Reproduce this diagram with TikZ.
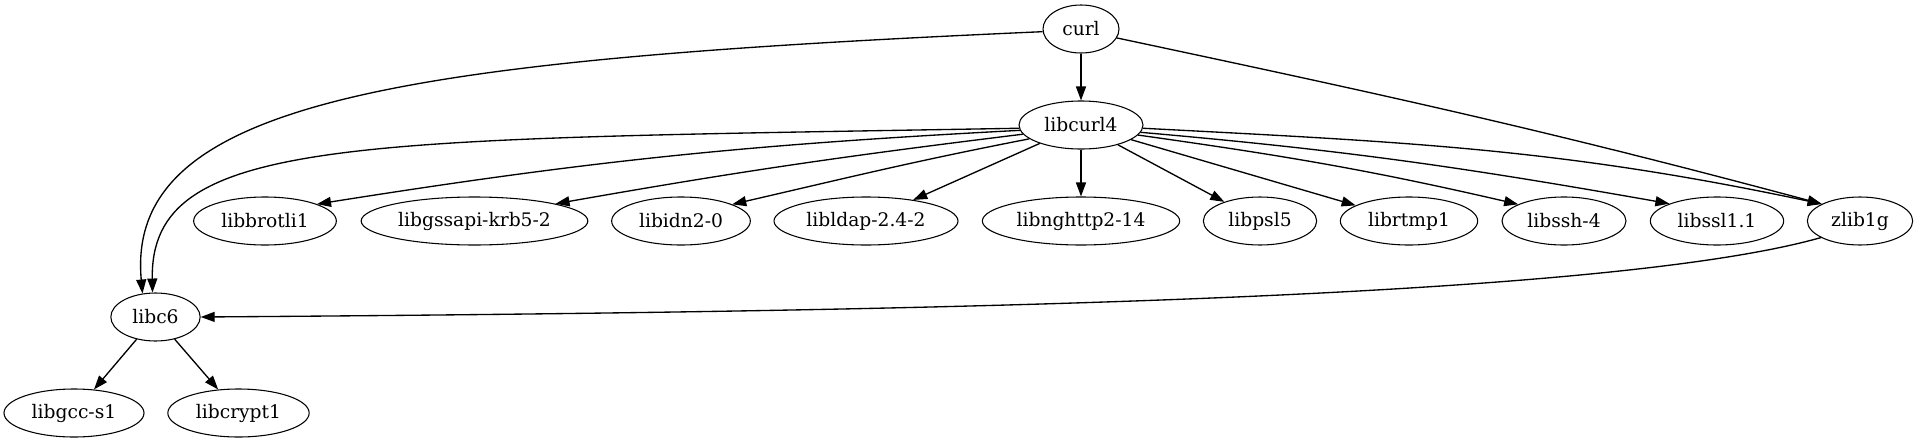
\documentclass[tikz,border=0pt]{standalone}
\usepackage{fontspec}
\setmainfont{DejaVu Serif}
\usetikzlibrary{arrows.meta, shapes.geometric}
\tikzset{>={Triangle[length=10.5pt, width=7.5pt]}}
\tikzset{pkg/.style={draw, ellipse, inner sep=0pt, minimum height=36pt, line width=0.8pt, font=\fontsize{14}{16}\selectfont}}
\tikzset{dep/.style={->, line width=1pt}}
\def\rowtop{-29}
\def\rowmid{-125}
\def\rowlib{-221}
\def\rowlibc{-317}
\def\rowbottom{-413}

\begin{document}
\begin{tikzpicture}[x=0.75pt, y=0.75pt]

\useasboundingbox (0,0) rectangle (1917,-443);

% curl and libcurl4
\node[pkg, minimum width=57pt] (curl) at (1081,\rowtop) {curl};
\node[pkg, minimum width=93pt] (libcurl) at (1081,\rowmid) {libcurl4};

% libraries under libcurl4
\node[pkg, minimum width=107pt] (brotli) at (265,\rowlib) {libbrotli1};
\node[pkg, minimum width=170pt] (gssapi) at (474.5,\rowlib) {libgssapi-krb5-2};
\node[pkg, minimum width=104pt] (idn) at (681,\rowlib) {libidn2-0};
\node[pkg, minimum width=138pt] (ldap) at (866,\rowlib) {libldap-2.4-2};
\node[pkg, minimum width=148pt] (nghttp) at (1081,\rowlib) {libnghttp2-14};
\node[pkg, minimum width=85pt] (psl) at (1260,\rowlib) {libpsl5};
\node[pkg, minimum width=103pt] (rtmp) at (1409,\rowlib) {librtmp1};
\node[pkg, minimum width=93pt] (ssh) at (1564,\rowlib) {libssh-4};
\node[pkg, minimum width=100pt] (ssl) at (1717,\rowlib) {libssl1.1};
\node[pkg, minimum width=79pt] (zlib) at (1860,\rowlib) {zlib1g};

% libc6 and below
\node[pkg, minimum width=67pt] (libc) at (155.5,\rowlibc) {libc6};
\node[pkg, minimum width=105pt] (gcc) at (74,\rowbottom) {libgcc-s1};
\node[pkg, minimum width=106pt] (crypt) at (238.5,\rowbottom) {libcrypt1};

% edges from curl
\draw[dep] (curl) -- (libcurl);
\draw[dep] (curl.184) .. controls (400,-60) and (125,-100) .. (libc.119);
\draw[dep] (curl.346) to[out=-12, in=165] (zlib.156);

% edges from libcurl4
\draw[dep] (libcurl.183) .. controls (350,-140) and (150,-135) .. (libc.97);
\draw[dep] (libcurl.185) to[out=183, in=9] (brotli.18);
\draw[dep] (libcurl.189) to[out=187, in=10] (gssapi.12);
\draw[dep] (libcurl.195) to[out=191, in=13] (idn.18);
\foreach \lib in {ldap, nghttp, psl, rtmp}{
    \draw[dep] (libcurl) -- (\lib);
}
\draw[dep] (libcurl.350) to[out=-8, in=167] (ssh.160);
\draw[dep] (libcurl.353) to[out=-5, in=170] (ssl.160);
\draw[dep] (libcurl.357) to[out=-3, in=168] (zlib.156);

% zlib1g back to libc6
\draw[dep] (zlib.203) .. controls (1600,-300) and (900,-312) .. (libc.east);

% libc6
\draw[dep] (libc) -- (gcc);
\draw[dep] (libc) -- (crypt);

\end{tikzpicture}
\end{document}
